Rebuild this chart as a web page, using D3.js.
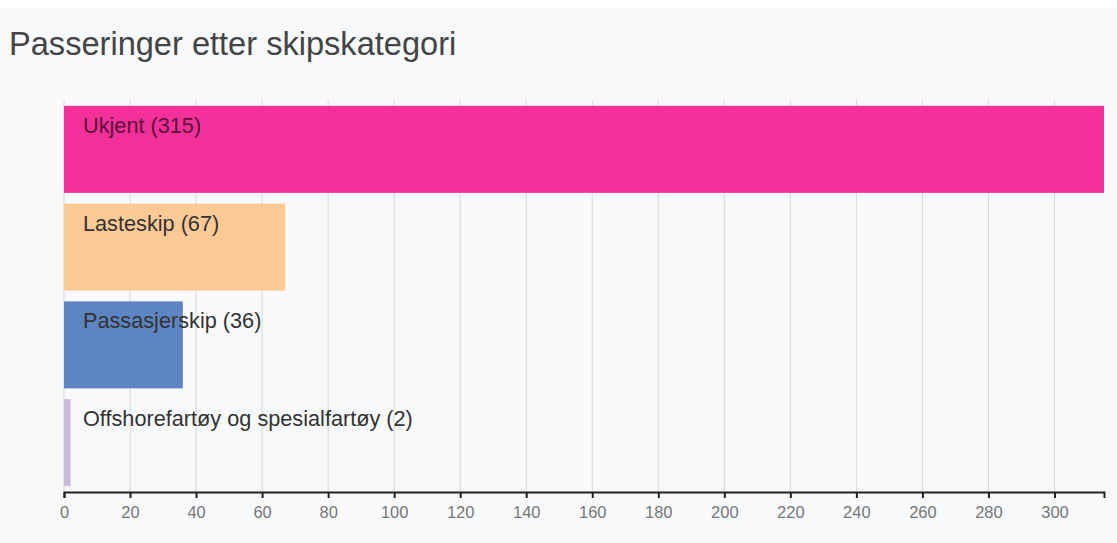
<!DOCTYPE html>
<html>
<head>
<meta charset="utf-8">
<script src="https://cdn.jsdelivr.net/npm/d3@7"></script>
<style>
  html, body { margin: 0; padding: 0; background: #fff; }
  svg { display: block; font-family: Arial, "Liberation Sans", sans-serif; }
</style>
</head>
<body>
<svg id="chart"></svg>
<script>
const categories = ["Ukjent", "Lasteskip", "Passasjerskip", "Offshorefartøy og spesialfartøy"];
const values = [315, 67, 36, 2];
const colors = ["#f2309a", "#fdca96", "#5d85c3", "#c7bbde"];
const tickValues = [0, 20, 40, 60, 80, 100, 120, 140, 160, 180, 200, 220, 240, 260, 280, 300];

const width = 1117;
const height = 543;
const margin = { top: 100, right: 13, bottom: 51, left: 64 };

const svg = d3.select("#chart").attr("width", width).attr("height", height);

// background panel
svg.append("rect")
  .attr("x", 0).attr("y", 8)
  .attr("width", width).attr("height", height - 8)
  .attr("fill", "#f8f9fb");

svg.append("text")
  .attr("x", 9).attr("y", 55)
  .attr("font-size", 32.6)
  .attr("fill", "#444")
  .text("Passeringer etter skipskategori");

const x = d3.scaleLinear()
  .domain([0, 315])
  .range([margin.left, width - margin.right]);

const y = d3.scaleBand()
  .domain(categories)
  .range([margin.top, height - margin.bottom])
  .paddingInner(0.11)
  .paddingOuter(0.06);

// gridlines
svg.append("g")
  .selectAll("line")
  .data(tickValues)
  .join("line")
  .attr("x1", d => x(d)).attr("x2", d => x(d))
  .attr("y1", margin.top).attr("y2", height - margin.bottom)
  .attr("stroke", "#d8d8d8")
  .attr("stroke-width", 1);

const data = categories.map((c, i) => ({ name: c, value: values[i], color: colors[i] }));

svg.append("g")
  .selectAll("rect")
  .data(data)
  .join("rect")
  .attr("x", x(0))
  .attr("y", d => y(d.name))
  .attr("width", d => x(d.value) - x(0))
  .attr("height", y.bandwidth())
  .attr("fill", d => d.color);

svg.append("g")
  .selectAll("text")
  .data(data)
  .join("text")
  .attr("x", x(0) + 19)
  .attr("y", d => y(d.name) + 27)
  .attr("font-size", 21.7)
  .attr("fill", (d, i) => i === 0 ? "#5a1038" : "#333")
  .text(d => `${d.name} (${d.value})`);

// x axis
const axis = svg.append("g")
  .attr("transform", `translate(0,${height - margin.bottom})`)
  .call(d3.axisBottom(x).tickValues(tickValues).tickSize(6).tickSizeOuter(6));
axis.select(".domain").attr("stroke", "#222").attr("stroke-width", 2);
axis.selectAll(".tick line").attr("stroke", "#222").attr("stroke-width", 2);
axis.selectAll(".tick text")
  .attr("fill", "#777")
  .attr("font-size", 16.5)
  .attr("dy", "1.05em");
</script>
</body>
</html>
